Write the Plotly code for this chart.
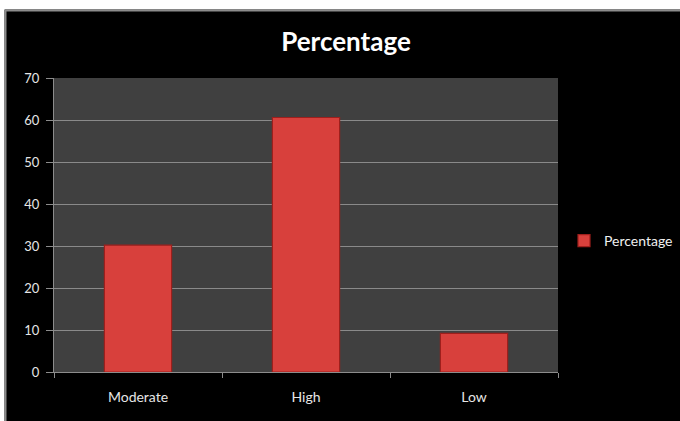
import plotly.graph_objects as go

# Data
categories = ["Moderate", "High", "Low"]
percentages = [30.2, 60.6, 9.2]
series_name = "Percentage"
y_ticks = [0, 10, 20, 30, 40, 50, 60, 70]

W, H = 680, 421
L, R, T, B = 54, 122, 78, 49  # plot-area margins in px
pw, ph = W - L - R, H - T - B


def px_x(px):
    return (px - L) / pw


def px_y(py):
    return (H - B - py) / ph


fig = go.Figure()
fig.add_trace(go.Bar(
    x=categories,
    y=percentages,
    name=series_name,
    marker=dict(color="#d8403c", line=dict(color="#9e1f1c", width=1.2)),
    showlegend=True,
))

shapes = [
    # white strip above the chart frame
    dict(type="rect", xref="paper", yref="paper",
         x0=px_x(-2), x1=px_x(W + 2), y0=px_y(9.5), y1=px_y(-2),
         fillcolor="white", line=dict(width=0), layer="above"),
    # white strip on the left edge
    dict(type="rect", xref="paper", yref="paper",
         x0=px_x(-2), x1=px_x(4.5), y0=px_y(H + 2), y1=px_y(-2),
         fillcolor="white", line=dict(width=0), layer="above"),
    # grey frame edges
    dict(type="line", xref="paper", yref="paper",
         x0=px_x(5), x1=px_x(W + 2), y0=px_y(10.5), y1=px_y(10.5),
         line=dict(color="#8c8c8c", width=2), layer="above"),
    dict(type="line", xref="paper", yref="paper",
         x0=px_x(5.5), x1=px_x(5.5), y0=px_y(H + 2), y1=px_y(10),
         line=dict(color="#8c8c8c", width=2), layer="above"),
]

fig.update_layout(
    width=W, height=H,
    margin=dict(l=L, r=R, t=T, b=B, autoexpand=False),
    paper_bgcolor="black",
    plot_bgcolor="#404040",
    font=dict(family="Lato, 'Open Sans', sans-serif", color="#e6e6e6", size=12),
    title=dict(text="<b>Percentage</b>", x=346 / W, xanchor="center",
               y=1 - 42 / H, yanchor="middle",
               font=dict(size=26, color="white", family="Lato, 'Open Sans', sans-serif")),
    bargap=0.6,
    showlegend=True,
    legend=dict(x=px_x(564), xanchor="left", y=px_y(241), yanchor="middle",
                bgcolor="rgba(0,0,0,0)", font=dict(size=14, color="#f0f0f0"),
                itemwidth=30),
    shapes=shapes,
)

fig.update_xaxes(
    type="category",
    showgrid=False,
    showline=True, linecolor="#8c8c8c", linewidth=1,
    ticks="outside", tickson="boundaries", ticklen=5, tickcolor="#8c8c8c",
    tickfont=dict(size=14, color="#e6e6e6"),
    ticklabelstandoff=12,
    mirror=False,
)
fig.update_yaxes(
    range=[0, 70],
    tickvals=y_ticks,
    showgrid=True, gridcolor="#8a8a8a", gridwidth=1,
    showline=True, linecolor="#8c8c8c", linewidth=1,
    ticks="outside", ticklen=7, tickcolor="#8c8c8c",
    tickfont=dict(size=13, color="#e6e6e6"),
    ticklabelstandoff=4,
    zeroline=False,
)

fig.write_html("out.html")
